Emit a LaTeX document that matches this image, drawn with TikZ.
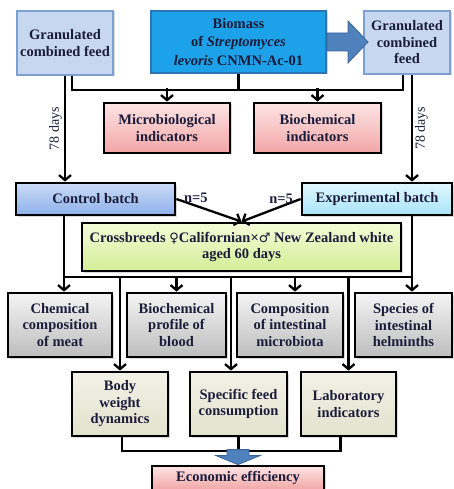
\documentclass[tikz,border=0pt]{standalone}
\usepackage{fontspec}
\setmainfont{Liberation Serif}
\newfontfamily\signfont{DejaVu Sans}
\usetikzlibrary{arrows.meta,shadows}

\definecolor{txtc}{HTML}{1B1B3A}
\definecolor{feedfill}{HTML}{C6D7EF}
\definecolor{feeddraw}{HTML}{7E9FCF}
\definecolor{biofill}{HTML}{1DA1E8}
\definecolor{biodraw}{HTML}{2C74B5}
\definecolor{arrfill}{HTML}{4F81BD}
\definecolor{arrdraw}{HTML}{3A6497}
\definecolor{pinktop}{HTML}{FDE4E4}
\definecolor{pinkbot}{HTML}{F2A6A6}
\definecolor{ctrltop}{HTML}{CCDCF7}
\definecolor{ctrlbot}{HTML}{8DB0EA}
\definecolor{exptop}{HTML}{E2F7FE}
\definecolor{expbot}{HTML}{A8E4F8}
\definecolor{crosstop}{HTML}{F4FBD8}
\definecolor{crossbot}{HTML}{D4EE96}
\definecolor{greytop}{HTML}{F4F4F4}
\definecolor{greybot}{HTML}{BDBDBD}
\definecolor{lowtop}{HTML}{F2F1E6}
\definecolor{lowbot}{HTML}{E3E2CE}

\newcommand{\fem}{{\signfont\mdseries\fontsize{13}{15}\selectfont ♀}}
\newcommand{\mal}{{\signfont\mdseries\fontsize{13}{15}\selectfont ♂}}

\tikzset{
  box/.style={draw=black, line width=2.8pt, align=center, text=txtc,
    font=\fontsize{14.5}{16.5}\selectfont\bfseries, inner sep=1pt,
    drop shadow={opacity=0.3, shadow xshift=1.5pt, shadow yshift=-1.5pt}},
  feedbox/.style={box, draw=feeddraw, fill=feedfill, line width=2pt},
  biobox/.style={box, draw=biodraw, fill=biofill, line width=2pt,
    font=\fontsize{14.5}{18.5}\selectfont\bfseries},
  pinkbox/.style={box, top color=pinktop, bottom color=pinkbot},
  ctrlbox/.style={box, top color=ctrltop, bottom color=ctrlbot},
  expbox/.style={box, top color=exptop, bottom color=expbot},
  crossbox/.style={box, top color=crosstop, bottom color=crossbot},
  greybox/.style={box, top color=greytop, bottom color=greybot},
  lowbox/.style={box, top color=lowtop, bottom color=lowbot},
  wire/.style={draw=black, line width=2.3pt},
  arr/.style={wire, -{Straight Barb[length=5pt,width=12pt,line width=2.3pt]}},
  blockarr/.style={fill=arrfill, draw=arrdraw, line width=0.8pt},
  days/.style={font=\fontsize{14}{16}\selectfont, text=txtc, inner sep=2pt},
  nlabel/.style={font=\fontsize{14.5}{16}\selectfont\bfseries, text=txtc, inner sep=1pt}
}

\begin{document}
\begin{tikzpicture}[x=1pt,y=-1pt]
  \useasboundingbox (0,0) rectangle (454,489);

  % sources
  \node[feedbox, minimum width=96pt, minimum height=64pt] (gleft) at (65,43) {Granulated\\combined feed};
  \node[biobox, minimum width=175pt, minimum height=62pt] (biomass) at (238.5,42) {Biomass\\of \textit{Streptomyces}\\\textit{levoris} CNMN-Ac-01};
  \node[feedbox, minimum width=86pt, minimum height=63pt] (gright) at (407,42.5) {Granulated\\combined\\feed};

  % indicators of the feed
  \node[pinkbox, minimum width=126pt, minimum height=50pt] (micro) at (167,128) {Microbiological\\indicators};
  \node[pinkbox, minimum width=127pt, minimum height=50pt] (biochem) at (317.5,128) {Biochemical\\indicators};

  % batches
  \node[ctrlbox, minimum width=159pt, minimum height=32pt] (control) at (95.5,199) {Control batch};
  \node[expbox, minimum width=150pt, minimum height=32pt] (exper) at (377,199) {Experimental batch};
  \node[crossbox, minimum width=319pt, minimum height=48pt] (cross) at (241.5,247) {Crossbreeds \fem Californian×\mal{} New Zealand white\\aged 60 days};

  % studied parameters
  \node[greybox, minimum width=104pt, minimum height=64pt] (chem) at (60,325) {Chemical\\composition\\of meat};
  \node[greybox, minimum width=99pt, minimum height=64pt] (blood) at (176.5,325) {Biochemical\\profile of\\blood};
  \node[greybox, minimum width=106pt, minimum height=64pt] (micbiota) at (290,325) {Composition\\of intestinal\\microbiota};
  \node[greybox, minimum width=97pt, minimum height=64pt] (helm) at (403.5,325) {Species of\\intestinal\\helminths};

  \node[lowbox, minimum width=96pt, minimum height=64pt] (bodyw) at (120,404) {Body\\weight\\dynamics};
  \node[lowbox, minimum width=97pt, minimum height=64pt] (feedc) at (238.5,404) {Specific feed\\consumption};
  \node[lowbox, minimum width=95pt, minimum height=64pt] (labind) at (348.5,404) {Laboratory\\indicators};

  \node[pinkbox, minimum width=172pt, minimum height=24pt] (econ) at (238,478) {Economic efficiency};

  % top connectors
  \draw[blockarr] ([yshift=9pt]biomass.east) -- ++(21,0) -- ++(0,-12) -- ++(20,21) -- ++(-20,21) -- ++(0,-12) -- ++(-21,0) -- cycle;
  \draw[wire] ([xshift=7pt]gleft.south) -- ++(0,14) -| ([xshift=-4pt]gright.south);
  \draw[wire] (biomass.south) -- ++(0,16);
  \draw[arr] ([yshift=14pt]micro.north) -- (micro.north);
  \draw[arr] ([yshift=14pt]biochem.north) -- (biochem.north);

  % 78 days
  \draw[arr] (gleft.south) -- (gleft.south |- control.north) node[pos=0.5, rotate=90, above, days] {78 days};
  \draw[arr] ([xshift=5pt]gright.south) -- ([xshift=5pt]gright.south |- exper.north) node[pos=0.5, rotate=90, below, days] {78 days};

  % groups of n=5
  \draw[arr] (control.east) -- (cross.north) node[pos=0.3, above=1pt, nlabel] {n=5};
  \draw[arr] (exper.west) -- (cross.north) node[pos=0.33, above=1pt, nlabel] {n=5};

  % middle bus
  \coordinate (mbus) at (0,277);
  \draw[arr] ([xshift=4pt]chem.north |- control.south) -- ([xshift=4pt]chem.north);
  \draw[arr] ([xshift=8.5pt]helm.north |- exper.south) -- ([xshift=8.5pt]helm.north);
  \draw[wire] ([xshift=4pt]chem.north |- mbus) -- ([xshift=8.5pt]helm.north |- mbus);
  \draw[arr] (blood.north |- mbus) -- (blood.north);
  \draw[arr] ([xshift=5pt]micbiota.north |- mbus) -- ([xshift=5pt]micbiota.north);
  \draw[arr] (bodyw.north |- mbus) -- (bodyw.north);
  \draw[arr] ([xshift=-7.5pt]feedc.north |- mbus) -- ([xshift=-7.5pt]feedc.north);
  \draw[arr] (labind.north |- mbus) -- (labind.north);

  % bottom bus
  \coordinate (bbus) at (0,451);
  \draw[wire] ([xshift=2pt]bodyw.south) -- ([xshift=2pt]bodyw.south |- bbus) -- ([xshift=-8pt]labind.south |- bbus) -- ([xshift=-8pt]labind.south);
  \draw[wire] (feedc.south) -- (feedc.south |- bbus);
  \draw[blockarr] ([xshift=-11pt,yshift=15pt]econ.north) -- ++(22,0) -- ++(0,6) -- ++(11,0) -- (econ.north) -- ++(-22,-9) -- ++(11,0) -- cycle;
\end{tikzpicture}
\end{document}
